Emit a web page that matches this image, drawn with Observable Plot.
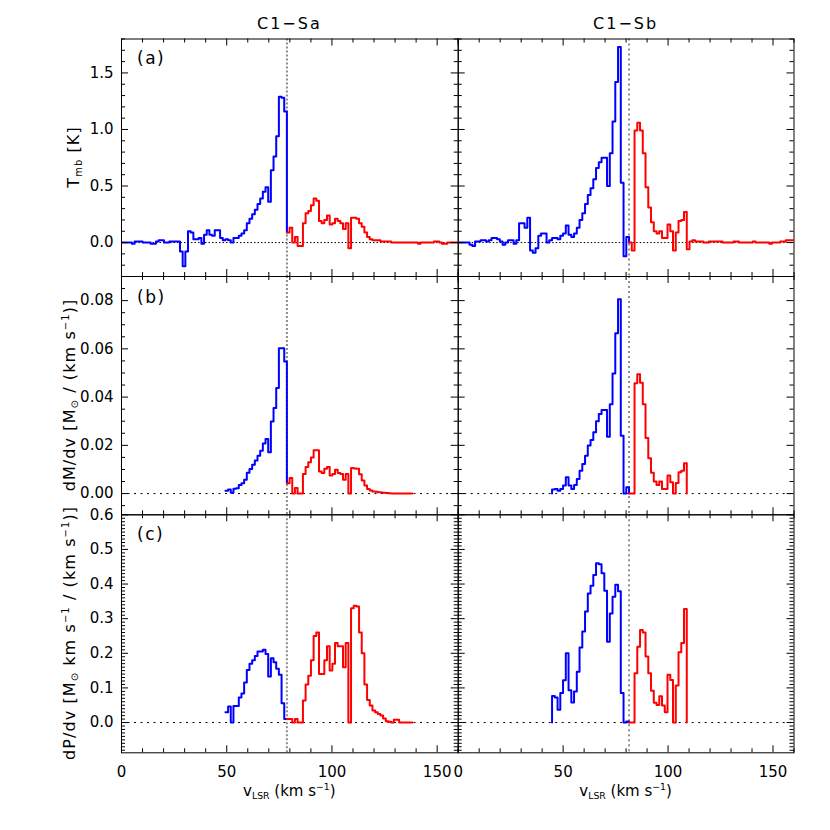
<!DOCTYPE html>
<html>
<head>
<meta charset="utf-8">
<script src="https://cdn.jsdelivr.net/npm/d3@7"></script>
<script src="https://cdn.jsdelivr.net/npm/@observablehq/plot@0.6"></script>
<style>
  body { margin: 0; background: #fff; }
  #chart { position: relative; width: 830px; height: 830px; font-family: "DejaVu Sans", "Liberation Sans", sans-serif; color: #000; overflow: hidden; }
  #chart svg { position: absolute; left: 0; top: 0; }
  .lbl { position: absolute; white-space: nowrap; font-size: 15px; line-height: 1; transform: translate(-50%, -50%); }
  .rot { transform: translate(-50%, -50%) rotate(-90deg); font-size: 16px; letter-spacing: 1.1px; }
  .ttl { font-size: 16px; letter-spacing: 2px; }
  .tag { font-size: 17px; letter-spacing: 1.5px; transform: translate(0, -50%); }
  sub, sup { font-size: 0.62em; line-height: 0; }
  sub { vertical-align: -0.35em; }
  sup { vertical-align: 0.6em; }
</style>
</head>
<body>
<div id="chart"></div>
<script>
// ----------------------------- DATA -----------------------------
const colTitles = ["C1\u2212Sa", "C1\u2212Sb"];
const panelTags = ["(a)", "(b)", "(c)"];
const xTicksMajor = [0, 50, 100, 150];
const xTickLabels = ["0", "50", "100", "150"];
const yTicksTmb = [0, 0.5, 1.0, 1.5];
const yTicksDM = [0, 0.02, 0.04, 0.06, 0.08];
const yTicksDP = [0, 0.1, 0.2, 0.3, 0.4, 0.5, 0.6];

// systemic velocities (km/s) and channel widths (km/s)
const vsysSa = 78.6, dvSa = 1.27;
const vsysSb = 81.4, dvSb = 1.31;

// C1-Sa : blue arrays end at vsys, red arrays start at vsys (one value per channel)
const tmbBlueSa = [0, 0, 0, 0, -0.01, 0.01, 0.01, 0.01, 0, 0,
  0, -0.01, -0.01, 0.01, 0.02, 0.02, 0, 0, 0.01, 0.01,
  0.01, 0.01, -0.08, -0.21, -0.08, 0.10, 0.09, 0.03, 0.03, 0.04,
  -0.01, 0.07, 0.11, 0.07, 0.06, 0.11, 0.11, 0.04, 0.02, 0.03,
  0.02, 0.00, 0.04, 0.04, 0.06, 0.08, 0.11, 0.17, 0.21, 0.25,
  0.29, 0.34, 0.39, 0.45, 0.49, 0.36, 0.64, 0.76, 0.94, 1.29,
  1.28, 1.16];
const tmbRedSa = [0.09, 0.13, 0.0, 0.05, -0.03, -0.03, 0.17, 0.26, 0.28, 0.33,
  0.39, 0.37, 0.19, 0.17, 0.20, 0.24, 0.16, 0.17, 0.21, 0.19,
  0.17, 0.12, 0.17, -0.05, 0.22, 0.22, 0.21, 0.17, 0.14, 0.09,
  0.05, 0.03, 0.02, 0.02, 0.02, 0.01, 0.01, 0.01, 0.01, 0.0,
  0, 0, 0, 0, 0, 0, 0, 0, 0, -0.01,
  0, 0, 0, 0, 0, 0.01, 0.01, 0, -0.01, -0.01,
  0, 0, 0, 0];
const dmBlueSa = [0.0012, 0.0017, 0.0003, 0.0020, 0.0022, 0.0036, 0.0043, 0.0057, 0.0086, 0.0102,
  0.0119, 0.0137, 0.0157, 0.0178, 0.0208, 0.0226, 0.0171, 0.0299, 0.0355, 0.0438,
  0.0603, 0.0603, 0.0548];
const dmRedSa = [0.0043, 0.0065, 0, 0.0023, 0, 0, 0.0081, 0.011, 0.013, 0.015,
  0.018, 0.018, 0.0092, 0.0085, 0.0103, 0.011, 0.0075, 0.0081, 0.0099, 0.0085,
  0.0081, 0.0057, 0.0081, 0, 0.0106, 0.0104, 0.0103, 0.008, 0.0054, 0.0033,
  0.0019, 0.0013, 0.0009, 0.0008, 0.0006, 0.0004, 0.0003, 0.0002, 0.0001, 0,
  0, 0, 0, 0, 0, 0, 0];
const dpBlueSa = [0.03, 0.046, 0.0, 0.048, 0.048, 0.072, 0.084, 0.116, 0.152, 0.17,
  0.18, 0.192, 0.205, 0.205, 0.21, 0.198, 0.133, 0.186, 0.174, 0.155,
  0.138, 0.056, 0.01];
const dpRedSa = [0.01, 0.01, 0.0, 0.01, 0.0, 0.0, 0.064, 0.11, 0.135, 0.18,
  0.25, 0.26, 0.14, 0.14, 0.18, 0.22, 0.15, 0.17, 0.23, 0.22,
  0.22, 0.16, 0.23, 0.0, 0.33, 0.337, 0.335, 0.26, 0.2, 0.11,
  0.065, 0.049, 0.035, 0.03, 0.025, 0.02, 0.012, 0.004, 0.002, 0.0,
  0.008, 0.008, 0.0, 0.0, 0.0, 0.0, 0.0];

// C1-Sb
const tmbBlueSb = [0, 0, 0, 0, -0.02, -0.03, 0.01, 0.01, 0.02, 0.02,
  0.01, 0.02, 0.04, 0.04, 0.03, 0.01, -0.02, 0.00, 0.02, 0.02,
  -0.01, 0.02, 0.17, 0.17, 0.13, 0.22, -0.07, -0.09, -0.05, 0.06,
  0.08, 0.08, 0.00, 0.02, 0.04, 0.04, 0.03, 0.06, 0.08, 0.15,
  0.07, 0.05, 0.08, 0.13, 0.20, 0.26, 0.34, 0.42, 0.48, 0.56,
  0.66, 0.71, 0.75, 0.75, 0.50, 0.79, 1.07, 1.42, 1.73, 0.53,
  -0.12, 0.05];
const tmbRedSb = [0.0, -0.07, 0.99, 1.06, 0.99, 0.79, 0.49, 0.31, 0.18, 0.10,
  0.08, 0.10, 0.04, 0.04, 0.16, 0.10, -0.07, 0.09, 0.19, 0.20,
  0.27, -0.06, 0.01, 0.02, 0.01, 0.01, 0.01, 0.00, 0.00, 0.01,
  0.01, 0.01, 0.01, 0.01, 0.00, 0.00, 0.00, 0.00, 0.01, 0.01,
  0.00, 0.00, 0.00, 0.00, 0.00, 0.01, 0.00, 0.00, 0.00, 0.00,
  0.00, -0.01, 0.00, 0.00, 0.00, 0.01, 0.01, 0.02, 0.02, 0.02];
const dmBlueSb = [0.0017, 0.0019, 0.0012, 0.0019, 0.0033, 0.0068, 0.0033, 0.0019, 0.0036, 0.006,
  0.0095, 0.0123, 0.0157, 0.0199, 0.0222, 0.0254, 0.030, 0.033, 0.0346, 0.0346,
  0.0236, 0.037, 0.0498, 0.0665, 0.0806, 0.024, 0, 0.0026];
const dmRedSb = [0, 0, 0.0457, 0.0495, 0.046, 0.037, 0.023, 0.0146, 0.0086, 0.005,
  0.0036, 0.005, 0.0019, 0.0019, 0.0075, 0.0047, 0, 0.0044, 0.0088, 0.0095,
  0.0126];
const dpBlueSb = [0.077, 0.072, 0.037, 0.085, 0.122, 0.2, 0.093, 0.058, 0.09, 0.147,
  0.217, 0.263, 0.321, 0.373, 0.395, 0.426, 0.46, 0.457, 0.431, 0.381,
  0.233, 0.315, 0.363, 0.398, 0.379, 0.085, 0, 0.003];
const dpRedSb = [0, 0, 0.142, 0.219, 0.267, 0.26, 0.191, 0.142, 0.092, 0.057,
  0.051, 0.076, 0.049, 0.03, 0.138, 0.123, 0, 0.107, 0.203, 0.23,
  0.328];

// ----------------------------- LAYOUT -----------------------------
const W = 830, H = 830;
const FONT = "DejaVu Sans, Liberation Sans, sans-serif";
const cols = [{l: 121, r: 457.7}, {l: 457.7, r: 793.5}];
const rows = [{t: 38.5, b: 276}, {t: 276, b: 514.3}, {t: 514.3, b: 752.3}];
const rowCfg = [
  {dom: [-0.3, 1.8], major: yTicksTmb, minor: 0.1, fmt: d3.format(".1f"), zeroDash: "1.5,2"},
  {dom: [-0.0088, 0.09], major: yTicksDM, minor: 0.005, fmt: d3.format(".2f"), zeroDash: "2,4.5"},
  {dom: [-0.0874, 0.6], major: yTicksDP, minor: 0.01, fmt: d3.format(".1f"), zeroDash: "2,4.5"}
];
const colCfg = [
  {vsys: vsysSa, dv: dvSa, blue: [tmbBlueSa, dmBlueSa, dpBlueSa], red: [tmbRedSa, dmRedSa, dpRedSa], startZero: false,
   vStroke: "#8a8a8a", vWidth: 2, vDash: "2,2"},
  {vsys: vsysSb, dv: dvSb, blue: [tmbBlueSb, dmBlueSb, dpBlueSb], red: [tmbRedSb, dmRedSb, dpRedSb], startZero: true,
   vStroke: "#222", vWidth: 1, vDash: "2,3"}
];

function bluePts(vals, vsys, dv, joinTo, startZero) {
  const v0 = vsys - vals.length * dv;
  const pts = [];
  if (startZero) pts.push({v: v0, y: 0});
  vals.forEach((y, i) => pts.push({v: v0 + i * dv, y}));
  pts.push({v: vsys, y: joinTo});
  return pts;
}
function redPts(vals, vsys, dv, endZero) {
  const pts = vals.map((y, i) => ({v: vsys + i * dv, y}));
  pts.push({v: vsys + vals.length * dv, y: endZero ? 0 : vals[vals.length - 1]});
  return pts;
}
function stepRange(dom, step) {
  const a = Math.ceil(dom[0] / step - 1e-9), b = Math.floor(dom[1] / step + 1e-9);
  return d3.range(a, b + 1).map(i => i * step);
}

const chart = document.getElementById("chart");
const xAll = d3.range(0, 161, 10);
const xMinor = xAll.filter(d => d % 50 !== 0);
const MAJ = 7, MIN = 4;

rows.forEach((row, ri) => {
  cols.forEach((col, ci) => {
    const rc = rowCfg[ri], cc = colCfg[ci];
    const ph = row.b - row.t, pw = col.r - col.l;
    const isTmb = ri === 0;
    const blueVals = cc.blue[ri], redVals = cc.red[ri];
    const blue = bluePts(blueVals, cc.vsys, cc.dv, redVals[0], !isTmb && cc.startZero);
    const red = redPts(redVals, cc.vsys, cc.dv, !isTmb);
    const yMinor = stepRange(rc.dom, rc.minor).filter(d => !rc.major.some(m => Math.abs(m - d) < 1e-9));
    const marks = [
      Plot.ruleY([0], {stroke: "#000", strokeWidth: 1, strokeDasharray: rc.zeroDash}),
      Plot.ruleX([cc.vsys], {stroke: cc.vStroke, strokeWidth: cc.vWidth, strokeDasharray: cc.vDash}),
      Plot.line(blue, {x: "v", y: "y", curve: "step-after", stroke: "#0000ff", strokeWidth: 2, clip: true}),
      Plot.line(red, {x: "v", y: "y", curve: "step-after", stroke: "#ff0000", strokeWidth: 2, clip: true}),
      Plot.tickX(xTicksMajor, {x: d => d, insetTop: ph - MAJ, stroke: "#000"}),
      Plot.tickX(xMinor, {x: d => d, insetTop: ph - MIN, stroke: "#000"}),
      Plot.tickX(xTicksMajor, {x: d => d, insetBottom: ph - MAJ, stroke: "#000"}),
      Plot.tickX(xMinor, {x: d => d, insetBottom: ph - MIN, stroke: "#000"}),
      Plot.tickY(rc.major, {y: d => d, insetRight: pw - MAJ, stroke: "#000"}),
      Plot.tickY(yMinor, {y: d => d, insetRight: pw - MIN, stroke: "#000"}),
      Plot.tickY(rc.major, {y: d => d, insetLeft: pw - MAJ, stroke: "#000"}),
      Plot.tickY(yMinor, {y: d => d, insetLeft: pw - MIN, stroke: "#000"}),
      Plot.frame({stroke: "#000", strokeWidth: 1})
    ];
    if (ci === 0) {
      marks.push(Plot.text(rc.major, {y: d => d, text: d => rc.fmt(d), frameAnchor: "left", textAnchor: "end",
        dx: -8, fontSize: 15, fontFamily: FONT, fill: "#000"}));
    }
    if (ri === 2) {
      marks.push(Plot.text(xTicksMajor, {x: d => d, text: (d, i) => xTickLabels[i], frameAnchor: "bottom",
        lineAnchor: "middle", dy: 19, fontSize: 15, fontFamily: FONT, fill: "#000"}));
    }
    const svg = Plot.plot({
      width: W, height: H,
      marginLeft: col.l, marginRight: W - col.r, marginTop: row.t, marginBottom: H - row.b,
      x: {domain: [0, 160], axis: null},
      y: {domain: rc.dom, axis: null},
      marks
    });
    svg.style.position = "absolute";
    svg.style.left = "0px";
    svg.style.top = "0px";
    svg.style.background = "transparent";
    svg.style.overflow = "visible";
    svg.style.maxWidth = "none";
    chart.appendChild(svg);
  });
});

// ----------------------------- TEXT -----------------------------
function addLabel(html, x, y, cls) {
  const d = document.createElement("div");
  d.className = "lbl " + (cls || "");
  d.style.left = x + "px";
  d.style.top = y + "px";
  d.innerHTML = html;
  chart.appendChild(d);
}
cols.forEach((col, ci) => {
  const cx = (col.l + col.r) / 2;
  addLabel(colTitles[ci], cx, 24, "ttl");
  addLabel("v<sub>LSR</sub> (km s<sup>\u22121</sup>)", cx, 791);
});
addLabel("T<sub>mb</sub> [K]", 74, (rows[0].t + rows[0].b) / 2, "rot");
addLabel("dM/dv [M<sub>\u2299</sub> / (km s<sup>\u22121</sup>)]", 70, (rows[1].t + rows[1].b) / 2, "rot");
addLabel("dP/dv [M<sub>\u2299</sub> km s<sup>\u22121</sup> / (km s<sup>\u22121</sup>)]", 70, (rows[2].t + rows[2].b) / 2, "rot");
const tagDy = [19, 21, 20];
rows.forEach((row, ri) => addLabel(panelTags[ri], 137, row.t + tagDy[ri], "tag"));
</script>
</body>
</html>
